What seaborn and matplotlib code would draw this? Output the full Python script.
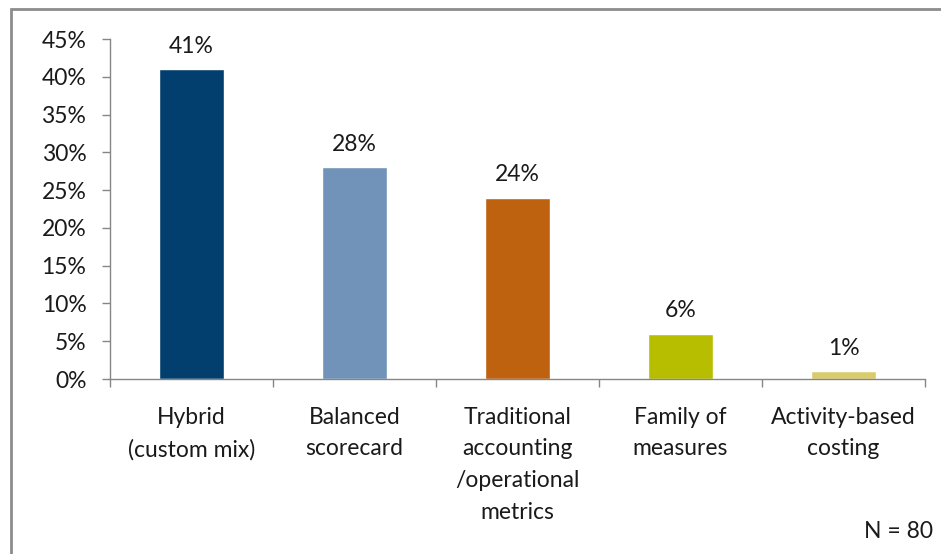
import matplotlib
matplotlib.use("Agg")
import matplotlib.pyplot as plt
import seaborn as sns
import pandas as pd
from matplotlib.patches import Rectangle

categories = ["Hybrid\n(custom mix)", "Balanced\nscorecard",
              "Traditional\naccounting\n/operational\nmetrics",
              "Family of\nmeasures", "Activity-based\ncosting"]
values = [0.41, 0.28, 0.24, 0.06, 0.01]
colors = ["#023F6E", "#7193BA", "#BE6210", "#B7BE00", "#DACB6E"]
yticks = [0, 0.05, 0.10, 0.15, 0.20, 0.25, 0.30, 0.35, 0.40, 0.45]
note = "N = 80"

sns.set_style("white")
plt.rcParams['font.family'] = ['Lato', 'DejaVu Sans']

FS = 16.5
df = pd.DataFrame({"cat": categories, "val": values})

fig = plt.figure(figsize=(9.41, 5.54), dpi=100)
ax = fig.add_axes([110/941, 1-379/554, (925-110)/941, (379-39)/554])

sns.barplot(data=df, x="cat", y="val", hue="cat", palette=colors,
            width=0.4, legend=False, ax=ax, saturation=1)

ax.set_ylim(0, 0.45)
ax.set_xlim(-0.5, 4.5)
ax.set_yticks(yticks)
ax.set_yticklabels([f"{int(round(t*100))}%" for t in yticks])
ax.set_xlabel("")
ax.set_ylabel("")

gray = "#868686"
for s in ["top", "right"]:
    ax.spines[s].set_visible(False)
for s in ["left", "bottom"]:
    ax.spines[s].set_color(gray)
    ax.spines[s].set_linewidth(1.0)

ax.tick_params(axis="y", which="major", direction="out", length=6, width=1,
               color=gray, pad=11, labelsize=FS, labelcolor="#1a1a1a", left=True)
ax.set_xticks(range(len(categories)))
ax.set_xticklabels(categories, fontsize=FS, color="#1a1a1a", linespacing=1.63,
                   va="top")
ax.tick_params(axis="x", which="major", length=0, pad=20)
ax.set_xticks([i - 0.5 for i in range(len(categories) + 1)], minor=True)
ax.tick_params(axis="x", which="minor", direction="out", length=6, width=1,
               color=gray, bottom=True)

for i, v in enumerate(values):
    ax.annotate(f"{int(round(v*100))}%", (i, v), xytext=(0, 12),
                textcoords="offset points", ha="center", va="baseline",
                fontsize=FS, color="#1a1a1a")

fig.text(933/941, 1-532/554, note, ha="right", va="center", fontsize=FS,
         color="#1a1a1a")

fig.patches.append(Rectangle((11/941, -0.1), 1.2, 1 + 0.1 - 9/554,
                             transform=fig.transFigure, fill=False,
                             edgecolor="#8C8C8C", linewidth=2))

fig.savefig("out.png", dpi=100)
